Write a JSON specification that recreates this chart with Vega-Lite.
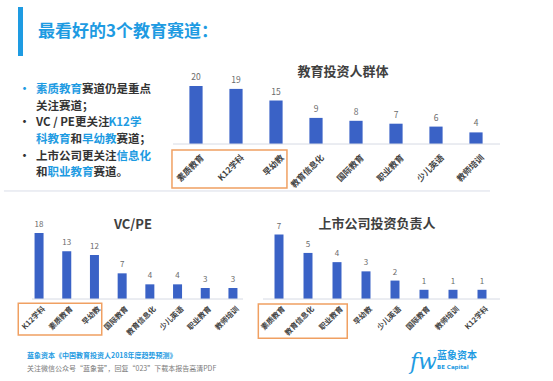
{
  "$schema": "https://vega.github.io/schema/vega-lite/v6.json",
  "width": 553,
  "height": 381,
  "autosize": {"type": "none"},
  "padding": 0,
  "background": "#ffffff",
  "config": {"view": {"stroke": null}, "font": "Noto Sans CJK SC", "text": {"font": "Noto Sans CJK SC"}},
  "datasets": {
    "investors": [
      {"category": "素质教育", "count": 20},
      {"category": "K12学科", "count": 19},
      {"category": "早幼教", "count": 15},
      {"category": "教育信息化", "count": 9},
      {"category": "国际教育", "count": 8},
      {"category": "职业教育", "count": 7},
      {"category": "少儿英语", "count": 6},
      {"category": "教师培训", "count": 4}
    ],
    "vcpe": [
      {"category": "K12学科", "count": 18},
      {"category": "素质教育", "count": 13},
      {"category": "早幼教", "count": 12},
      {"category": "国际教育", "count": 7},
      {"category": "教育信息化", "count": 4},
      {"category": "少儿英语", "count": 4},
      {"category": "职业教育", "count": 3},
      {"category": "教师培训", "count": 3}
    ],
    "listed": [
      {"category": "素质教育", "count": 7},
      {"category": "教育信息化", "count": 5},
      {"category": "职业教育", "count": 4},
      {"category": "早幼教", "count": 3},
      {"category": "少儿英语", "count": 2},
      {"category": "国际教育", "count": 1},
      {"category": "教师培训", "count": 1},
      {"category": "K12学科", "count": 1}
    ],
    "bullets": [
      {"line": 1, "col": -1.5, "text": "•", "emphasis": "yes"},
      {"line": 1, "col": 0, "text": "素质教育", "emphasis": "yes"},
      {"line": 1, "col": 4, "text": "赛道仍是重点", "emphasis": "no"},
      {"line": 2, "col": 0, "text": "关注赛道；", "emphasis": "no"},
      {"line": 3, "col": -1.5, "text": "•", "emphasis": "no"},
      {"line": 3, "col": 0, "text": "VC / PE更关注", "emphasis": "no"},
      {"line": 3, "col": 6.3, "text": "K12学", "emphasis": "yes"},
      {"line": 4, "col": 0, "text": "科教育", "emphasis": "yes"},
      {"line": 4, "col": 3, "text": "和", "emphasis": "no"},
      {"line": 4, "col": 4, "text": "早幼教", "emphasis": "yes"},
      {"line": 4, "col": 7, "text": "赛道；", "emphasis": "no"},
      {"line": 5, "col": -1.5, "text": "•", "emphasis": "no"},
      {"line": 5, "col": 0, "text": "上市公司更关注", "emphasis": "no"},
      {"line": 5, "col": 7, "text": "信息化", "emphasis": "yes"},
      {"line": 6, "col": 0, "text": "和", "emphasis": "no"},
      {"line": 6, "col": 1, "text": "职业教育", "emphasis": "yes"},
      {"line": 6, "col": 5, "text": "赛道。", "emphasis": "no"}
    ],
    "footer": [
      {"line": 1, "text": "蓝象资本《中国教育投资人2018年度趋势预测》"},
      {"line": 2, "text": "关注微信公众号“蓝象营”，回复“023”下载本报告高清PDF"}
    ],
    "logo": [
      {"line": 1, "text": "蓝象资本"},
      {"line": 2, "text": "BE Capital"}
    ]
  },
  "layer": [
    {
      "data": {"values": [{"heading": "最看好的3个教育赛道："}]},
      "layer": [
        {
          "mark": {"type": "rect", "color": "#1e9be2"},
          "encoding": {
            "x": {"field": "heading", "type": "nominal", "scale": {"range": [18, 23], "paddingInner": 0, "paddingOuter": 0}, "axis": null},
            "y": {"field": "heading", "type": "nominal", "scale": {"range": [7, 56], "paddingInner": 0, "paddingOuter": 0}, "axis": null}
          }
        },
        {
          "mark": {"type": "text", "align": "left", "baseline": "middle", "dx": 20, "fontSize": 17, "fontWeight": "bold", "color": "#1e9be2"},
          "encoding": {
            "x": {"field": "heading", "type": "nominal", "bandPosition": 0},
            "y": {"field": "heading", "type": "nominal", "bandPosition": 0.5},
            "text": {"field": "heading"}
          }
        }
      ]
    },
    {
      "data": {"name": "bullets"},
      "mark": {"type": "text", "align": "left", "baseline": "middle", "fontSize": 11.5, "fontWeight": "bold"},
      "encoding": {
        "x": {"field": "col", "type": "quantitative", "scale": {"domain": [0, 10], "range": [36, 151], "nice": false}, "axis": null},
        "y": {"field": "line", "type": "quantitative", "scale": {"domain": [1, 6], "range": [90, 173.3], "nice": false, "zero": false}, "axis": null},
        "text": {"field": "text"},
        "color": {"field": "emphasis", "type": "nominal", "scale": {"domain": ["yes", "no"], "range": ["#1e9be2", "#333333"]}, "legend": null}
      }
    },
    {
      "data": {"name": "investors"},
      "encoding": {
        "x": {"field": "category", "type": "nominal", "sort": null, "scale": {"range": [176, 496], "paddingInner": 0.67, "paddingOuter": 0.335}, "axis": null},
        "y": {"field": "count", "type": "quantitative", "scale": {"domain": [0, 20], "range": [144, 86], "nice": false}, "axis": null}
      },
      "layer": [
        {"mark": {"type": "bar", "color": "#3a62c6"}},
        {"mark": {"type": "text", "baseline": "bottom", "dy": -4, "fontSize": 8.5, "color": "#6b6b6b"}, "encoding": {"text": {"field": "count"}}},
        {"mark": {"type": "text", "angle": -45, "align": "right", "baseline": "middle", "dx": -3.9, "dy": 13.1, "fontSize": 8.5, "fontWeight": "bold", "color": "#444444"}, "encoding": {"y": {"datum": 0}, "text": {"field": "category"}}},
        {"transform": [{"filter": {"field": "category", "equal": "素质教育"}}], "mark": {"type": "rule", "color": "#d6dae4", "strokeWidth": 1}, "encoding": {"x": {"datum": "素质教育", "bandPosition": -1.24}, "x2": {"datum": "教师培训", "bandPosition": 2.32}, "y": {"datum": 0}}},
        {"transform": [{"filter": {"field": "category", "equal": "素质教育"}}], "mark": {"type": "rule", "color": "#d9dde8", "strokeWidth": 1}, "encoding": {"x": {"datum": "素质教育", "bandPosition": -14.05}, "x2": {"datum": "教师培训", "bandPosition": 1.56}, "y": {"datum": -16.2}}},
        {"transform": [{"filter": {"field": "category", "equal": "素质教育"}}], "mark": {"type": "rect", "fillOpacity": 0, "stroke": "#f0a062", "strokeWidth": 1.5}, "encoding": {"x": {"datum": "素质教育", "bandPosition": -1.32}, "x2": {"datum": "早幼教", "bandPosition": 1.33}, "y": {"datum": -2.07}, "y2": {"datum": -15.17}}},
        {"transform": [{"filter": {"field": "category", "equal": "素质教育"}}], "mark": {"type": "text", "align": "center", "baseline": "middle", "fontSize": 13, "fontWeight": "bold", "color": "#404040"}, "encoding": {"x": {"datum": "教育信息化", "bandPosition": 2.55}, "y": {"datum": 24.83}, "text": {"value": "教育投资人群体"}}}
      ]
    },
    {
      "data": {"name": "vcpe"},
      "encoding": {
        "x": {"field": "category", "type": "nominal", "sort": null, "scale": {"range": [25.2, 246.8], "paddingInner": 0.675, "paddingOuter": 0.3375}, "axis": null},
        "y": {"field": "count", "type": "quantitative", "scale": {"domain": [0, 18], "range": [299, 233], "nice": false}, "axis": null}
      },
      "layer": [
        {"mark": {"type": "bar", "color": "#3a62c6"}},
        {"mark": {"type": "text", "baseline": "bottom", "dy": -4, "fontSize": 8, "color": "#6b6b6b"}, "encoding": {"text": {"field": "count"}}},
        {"mark": {"type": "text", "angle": -45, "align": "right", "baseline": "middle", "dx": -2.8, "dy": 9.9, "fontSize": 7.5, "fontWeight": "bold", "color": "#444444"}, "encoding": {"y": {"datum": 0}, "text": {"field": "category"}}},
        {"transform": [{"filter": {"field": "category", "equal": "K12学科"}}], "mark": {"type": "rule", "color": "#d6dae4", "strokeWidth": 1}, "encoding": {"x": {"datum": "K12学科", "bandPosition": -0.28}, "x2": {"datum": "教师培训", "bandPosition": 1.62}, "y": {"datum": 0}}},
        {"transform": [{"filter": {"field": "category", "equal": "K12学科"}}], "mark": {"type": "rect", "fillOpacity": 0, "stroke": "#f0a062", "strokeWidth": 1.5}, "encoding": {"x": {"datum": "K12学科", "bandPosition": -1.81}, "x2": {"datum": "早幼教", "bandPosition": 1.31}, "y": {"datum": -1.17}, "y2": {"datum": -9.82}}},
        {"transform": [{"filter": {"field": "category", "equal": "K12学科"}}], "mark": {"type": "text", "align": "center", "baseline": "middle", "fontSize": 13, "fontWeight": "bold", "color": "#404040"}, "encoding": {"x": {"datum": "国际教育", "bandPosition": 1.7}, "y": {"datum": 20.2}, "text": {"value": "VC/PE"}}}
      ]
    },
    {
      "data": {"name": "listed"},
      "encoding": {
        "x": {"field": "category", "type": "nominal", "sort": null, "scale": {"range": [264.5, 496.5], "paddingInner": 0.69, "paddingOuter": 0.345}, "axis": null},
        "y": {"field": "count", "type": "quantitative", "scale": {"domain": [0, 7], "range": [299, 234.5], "nice": false}, "axis": null}
      },
      "layer": [
        {"mark": {"type": "bar", "color": "#3a62c6"}},
        {"mark": {"type": "text", "baseline": "bottom", "dy": -4, "fontSize": 8, "color": "#6b6b6b"}, "encoding": {"text": {"field": "count"}}},
        {"mark": {"type": "text", "angle": -45, "align": "right", "baseline": "middle", "dx": -2.8, "dy": 9.9, "fontSize": 7.5, "fontWeight": "bold", "color": "#444444"}, "encoding": {"y": {"datum": 0}, "text": {"field": "category"}}},
        {"transform": [{"filter": {"field": "category", "equal": "素质教育"}}], "mark": {"type": "rule", "color": "#d6dae4", "strokeWidth": 1}, "encoding": {"x": {"datum": "素质教育", "bandPosition": -1.28}, "x2": {"datum": "K12学科", "bandPosition": 2.5}, "y": {"datum": 0}}},
        {"transform": [{"filter": {"field": "category", "equal": "素质教育"}}], "mark": {"type": "rect", "fillOpacity": 0, "stroke": "#f0a062", "strokeWidth": 1.5}, "encoding": {"x": {"datum": "素质教育", "bandPosition": -1.8}, "x2": {"datum": "职业教育", "bandPosition": 1.64}, "y": {"datum": -0.54}, "y2": {"datum": -4.27}}},
        {"transform": [{"filter": {"field": "category", "equal": "素质教育"}}], "mark": {"type": "text", "align": "center", "baseline": "middle", "fontSize": 13, "fontWeight": "bold", "color": "#404040"}, "encoding": {"x": {"datum": "早幼教", "bandPosition": 1.72}, "y": {"datum": 8.14}, "text": {"value": "上市公司投资负责人"}}}
      ]
    },
    {
      "data": {"name": "footer"},
      "encoding": {
        "x": {"datum": 0, "type": "quantitative", "scale": {"domain": [0, 1], "range": [27, 227], "nice": false}, "axis": null},
        "y": {"field": "line", "type": "quantitative", "scale": {"domain": [1, 2], "range": [356, 369], "nice": false, "zero": false}, "axis": null},
        "text": {"field": "text"}
      },
      "layer": [
        {"transform": [{"filter": "datum.line == 1"}], "mark": {"type": "text", "align": "left", "baseline": "middle", "fontSize": 7, "fontWeight": "bold", "color": "#1e9be2"}},
        {"transform": [{"filter": "datum.line == 2"}], "mark": {"type": "text", "align": "left", "baseline": "middle", "fontSize": 7, "color": "#7a7a7a"}}
      ]
    },
    {
      "data": {"name": "logo"},
      "encoding": {
        "x": {"datum": 0, "type": "quantitative", "scale": {"domain": [0, 1], "range": [437, 480], "nice": false}, "axis": null},
        "y": {"field": "line", "type": "quantitative", "scale": {"domain": [1, 2], "range": [356, 367], "nice": false, "zero": false}, "axis": null},
        "text": {"field": "text"}
      },
      "layer": [
        {"transform": [{"filter": "datum.line == 1"}], "mark": {"type": "text", "align": "left", "baseline": "middle", "fontSize": 10, "fontWeight": "bold", "color": "#1e9be2"}},
        {"transform": [{"filter": "datum.line == 2"}], "mark": {"type": "text", "align": "left", "baseline": "middle", "fontSize": 5.5, "fontWeight": "bold", "font": "DejaVu Sans", "color": "#1e9be2"}},
        {"transform": [{"filter": "datum.line == 1"}], "mark": {"type": "text", "align": "left", "baseline": "middle", "fontSize": 22, "font": "DejaVu Serif", "fontStyle": "italic", "color": "#1e9be2"}, "encoding": {"x": {"datum": -0.63}, "y": {"datum": 1.5}, "text": {"value": "fw"}}}
      ]
    }
  ],
  "resolve": {"scale": {"x": "independent", "y": "independent", "color": "independent"}}
}
